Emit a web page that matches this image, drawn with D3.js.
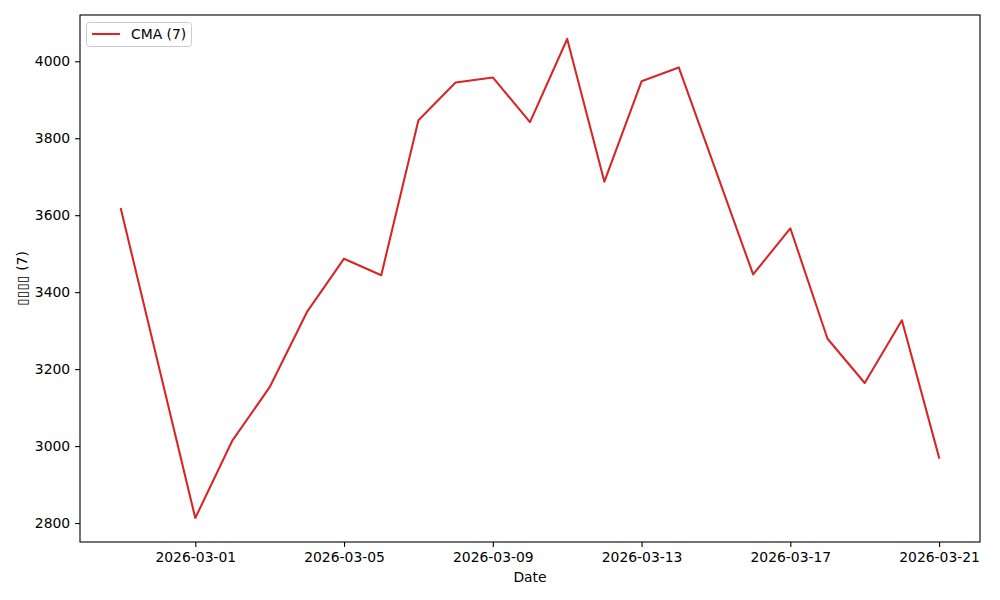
<!DOCTYPE html>
<html><head><meta charset="utf-8">
<script src="https://cdn.jsdelivr.net/npm/d3@7"></script>
<style>body{margin:0;background:#fff}svg{display:block}text{font-family:"DejaVu Sans",sans-serif}</style>
</head><body><svg id="c" width="1000" height="600"></svg>
<script>
const dates = ["2026-02-27","2026-03-01","2026-03-02","2026-03-03","2026-03-04","2026-03-05","2026-03-06","2026-03-07","2026-03-08","2026-03-09","2026-03-10","2026-03-11","2026-03-12","2026-03-13","2026-03-14","2026-03-16","2026-03-17","2026-03-18","2026-03-19","2026-03-20","2026-03-21"];
const values = [3616,2813,3015,3153,3348,3487,3444,3847,3945,3958,3842,4058,3687,3948,3984,3446,3566,3279,3164,3327,2970];
const xTickLabels = ["2026-03-01","2026-03-05","2026-03-09","2026-03-13","2026-03-17","2026-03-21"];
const yTicks = [2800,3000,3200,3400,3600,3800,4000];
const seriesName = "CMA (7)";
const xLabel = "Date";
const yLabel = "\u25AF\u25AF\u25AF\u25AF (7)";

const parse = d3.timeParse("%Y-%m-%d");
const data = dates.map((d,i)=>({d:parse(d), v:values[i]}));
const L=80,R=980,T=15,B=542;
const svg = d3.select("#c");
const xe = d3.extent(data,d=>d.d), xs=(xe[1]-xe[0])*0.05;
const ye = d3.extent(data,d=>d.v), ys=(ye[1]-ye[0])*0.05;
const x = d3.scaleTime().domain([new Date(+xe[0]-xs), new Date(+xe[1]+xs)]).range([L,R]);
const y = d3.scaleLinear().domain([ye[0]-ys, ye[1]+ys]).range([B,T]);

const fs = 13.9;
const xa = svg.append("g").attr("transform",`translate(0,${B})`)
  .call(d3.axisBottom(x).tickValues(xTickLabels.map(parse)).tickFormat(d3.timeFormat("%Y-%m-%d")).tickSize(4.9).tickPadding(4.9));
const ya = svg.append("g").attr("transform",`translate(${L},0)`)
  .call(d3.axisLeft(y).tickValues(yTicks).tickFormat(d3.format("d")).tickSize(4.9).tickPadding(4.9));
[xa,ya].forEach(a=>{a.select(".domain").remove();a.selectAll("text").attr("font-size",fs).attr("fill","#000").attr("font-family","DejaVu Sans");a.selectAll("line").attr("stroke","#000").attr("stroke-width",1.1);});

svg.append("path").datum(data).attr("fill","none").attr("stroke","#d62728").attr("stroke-width",2.08)
  .attr("stroke-linejoin","round").attr("stroke-linecap","square")
  .attr("d",d3.line().x(d=>x(d.d)).y(d=>y(d.v)));

svg.append("rect").attr("x",L).attr("y",T).attr("width",R-L).attr("height",B-T).attr("fill","none").attr("stroke","#000").attr("stroke-width",1.1);

svg.append("text").attr("x",(L+R)/2).attr("y",582).attr("text-anchor","middle").attr("font-size",fs).attr("fill","#000").text(xLabel);
svg.append("text").attr("transform",`translate(27,${(T+B)/2}) rotate(-90)`).attr("text-anchor","middle").attr("font-size",fs).attr("fill","#000").attr("font-family","DejaVu Sans").text(yLabel);

const lg = svg.append("g");
lg.append("rect").attr("x",86.5).attr("y",22.5).attr("width",105).attr("height",24).attr("rx",3).attr("fill","#fff").attr("fill-opacity",0.8).attr("stroke","#ccc").attr("stroke-width",1);
lg.append("line").attr("x1",92).attr("x2",120).attr("y1",34).attr("y2",34).attr("stroke","#d62728").attr("stroke-width",2.08);
lg.append("text").attr("x",131).attr("y",39).attr("font-size",fs).attr("fill","#000").text(seriesName);
</script></body></html>
